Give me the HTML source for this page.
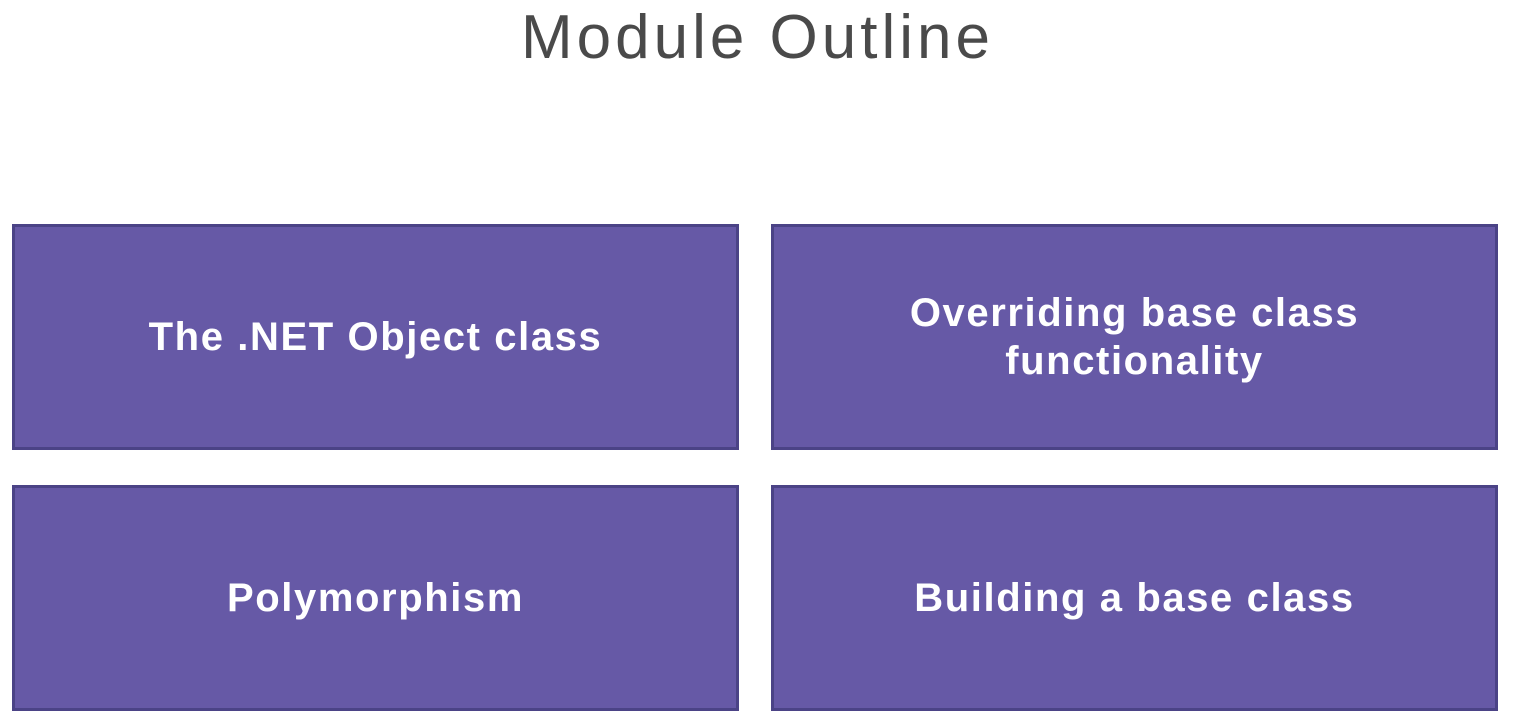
<!DOCTYPE html>
<html><head><style>
html,body{margin:0;padding:0;background:#fff;width:1515px;height:722px;overflow:hidden;font-family:"Liberation Sans",sans-serif;}
.t{position:absolute;left:0;width:1515px;top:2px;text-align:center;font-size:62px;color:#4a4a4a;letter-spacing:4px;font-weight:normal;}
.b{position:absolute;box-sizing:border-box;width:727px;height:226px;background:#6659a6;border:3px solid #4b4386;display:flex;align-items:center;justify-content:center;text-align:center;color:#fff;font-weight:bold;font-size:40px;line-height:48px;letter-spacing:1.6px;}
</style></head><body>
<div class="t">Module Outline</div>
<div class="b" style="left:12px;top:224px">The .NET Object class</div>
<div class="b" style="left:771px;top:224px">Overriding base class<br>functionality</div>
<div class="b" style="left:12px;top:485px">Polymorphism</div>
<div class="b" style="left:771px;top:485px">Building a base class</div>
</body></html>
